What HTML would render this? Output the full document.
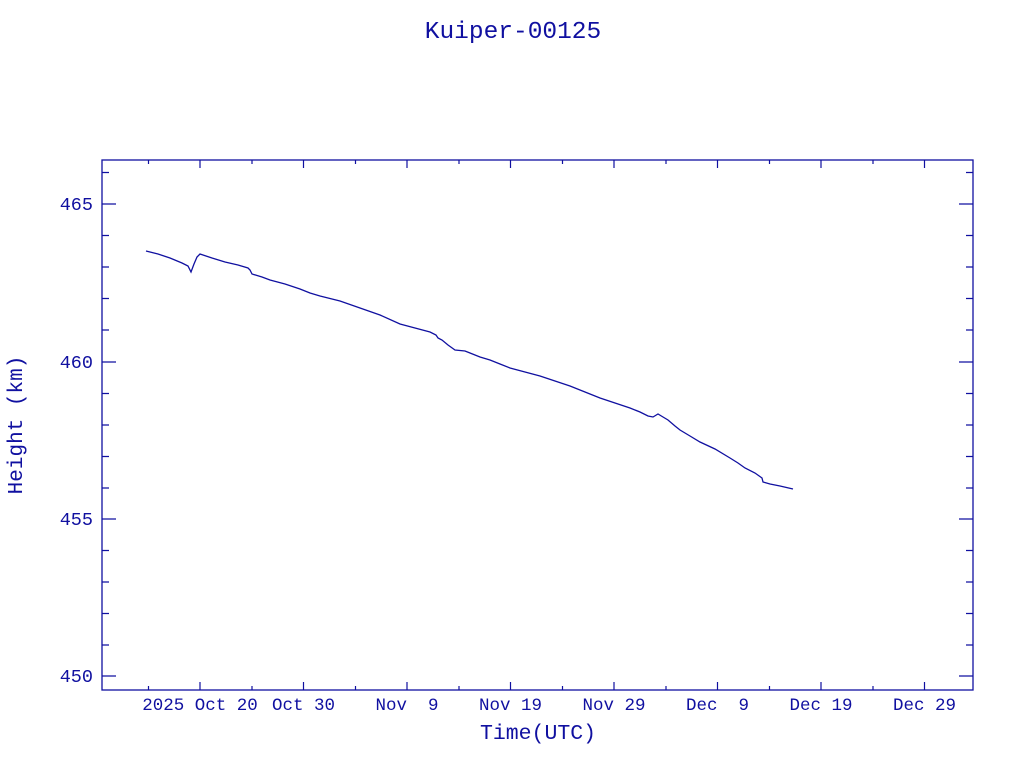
<!DOCTYPE html>
<html><head><style>body{margin:0;background:#fff;}svg{display:block}</style></head><body>
<svg width="1024" height="768" xmlns="http://www.w3.org/2000/svg" font-family="Liberation Mono, monospace" fill="#1010a0">
<text x="513" y="38" text-anchor="middle" font-size="24.5">Kuiper-00125</text>
<rect x="102" y="160" width="871" height="530" fill="none" stroke="#1010a0" stroke-width="1.3"/>
<g stroke="#1010a0" stroke-width="1.2" id="yt">
<path d="M102 204h14M102 362h14M102 519h14M102 676h14M973 204h-14M973 362h-14M973 519h-14M973 676h-14"/>
<path d="M102 172.5h7M102 235.5h7M102 267h7M102 298.5h7M102 330h7M102 393.5h7M102 425h7M102 456.5h7M102 488h7M102 550.5h7M102 582h7M102 613.5h7M102 645h7M973 172.5h-7M973 235.5h-7M973 267h-7M973 298.5h-7M973 330h-7M973 393.5h-7M973 425h-7M973 456.5h-7M973 488h-7M973 550.5h-7M973 582h-7M973 613.5h-7M973 645h-7"/>
<path d="M200 690v-8M303.5 690v-8M407 690v-8M510.5 690v-8M614 690v-8M717.5 690v-8M821 690v-8M924.5 690v-8M200 160v8M303.5 160v8M407 160v8M510.5 160v8M614 160v8M717.5 160v8M821 160v8M924.5 160v8"/>
<path d="M148.5 690v-4M252 690v-4M355.5 690v-4M459 690v-4M562.5 690v-4M666 690v-4M769.5 690v-4M873 690v-4M148.5 160v4M252 160v4M355.5 160v4M459 160v4M562.5 160v4M666 160v4M769.5 160v4M873 160v4"/>
</g>
<g font-size="18.5" text-anchor="end">
<text x="93" y="210">465</text><text x="93" y="368">460</text><text x="93" y="525">455</text><text x="93" y="682">450</text>
</g>
<g font-size="17.5" text-anchor="middle">
<text x="200" y="710" xml:space="preserve">2025 Oct 20</text><text x="303.5" y="710">Oct 30</text><text x="407" y="710" xml:space="preserve">Nov  9</text><text x="510.5" y="710">Nov 19</text><text x="614" y="710">Nov 29</text><text x="717.5" y="710" xml:space="preserve">Dec  9</text><text x="821" y="710">Dec 19</text><text x="924.5" y="710">Dec 29</text>
</g>
<text x="538" y="739" text-anchor="middle" font-size="21.5">Time(UTC)</text>
<text transform="translate(22,425) rotate(-90)" text-anchor="middle" font-size="21">Height (km)</text>
<polyline fill="none" stroke="#1010a0" stroke-width="1.3" points="146,251 158,254 170,258 182,263 188,266 191,272 194,264 197,257 200,254 212,258 225,262 238,265 248,268 250,270 252,274 262,277 270,280 285,284 300,289 310,293 320,296 340,301 360,308 380,315 400,324 415,328 430,332 436,335 438,338 442,340 448,345 455,350 465,351 470,353 480,357 490,360 500,364 510,368 525,372 540,376 555,381 570,386 585,392 600,398 615,403 630,408 640,412 648,416 653,417 658,414 663,417 668,420 675,426 680,430 690,436 700,442 715,449 730,458 738,463 745,468 755,473 762,478 763,482 770,484 780,486 793,489"/>
</svg>
</body></html>
